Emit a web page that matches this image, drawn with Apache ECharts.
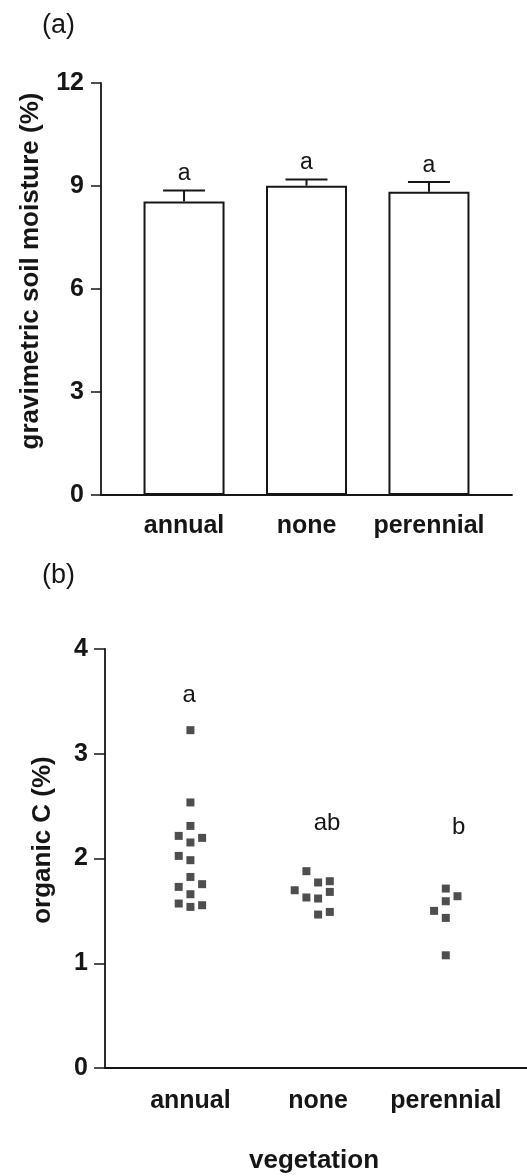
<!DOCTYPE html>
<html>
<head>
<meta charset="utf-8">
<script src="https://cdn.jsdelivr.net/npm/echarts@6/dist/echarts.min.js"></script>
<style>
  html, body { margin: 0; padding: 0; background: #fff; }
  #chart { width: 527px; height: 1176px; }
</style>
</head>
<body>
<div id="chart"></div>
<script>
// ---------- data ----------
const categories = ['annual', 'none', 'perennial'];

// panel (a): gravimetric soil moisture (%), mean and upper error
const moistureMean = [8.55, 9.01, 8.83];
const moistureErr = [0.32, 0.18, 0.29];
const moistureLetters = ['a', 'a', 'a'];
const moistureTicks = [0, 3, 6, 9, 12];

// panel (b): organic C (%) individual samples, with dot column within each group
const organicAnnual = [3.225, 2.535, 2.311, 2.216, 2.197, 2.153, 2.025, 1.984, 1.824, 1.729, 1.755, 1.659, 1.570, 1.538, 1.554];
const organicAnnualCol = [0, 0, 0, -1, 1, 0, -1, 0, 0, -1, 1, 0, -1, 0, 1];
const organicNone = [1.879, 1.771, 1.783, 1.697, 1.681, 1.628, 1.618, 1.465, 1.490];
const organicNoneCol = [-1, 0, 1, -2, 1, -1, 0, 0, 1];
const organicPerennial = [1.713, 1.640, 1.592, 1.500, 1.433, 1.076];
const organicPerennialCol = [0, 1, 0, -1, 0, 0];
const organicLetters = ['a', 'ab', 'b'];
const organicLetterY = [3.56, 2.34, 2.30];
const organicLetterX = [0.99, 2.07, 3.10];
const organicTicks = [0, 1, 2, 3, 4];

// ---------- styling ----------
const FONT = "'Liberation Sans', Arial, Helvetica, sans-serif";
const INK = '#161616';
const jitterStep = 11.7 / 127.7; // column spacing in category units

function buildPoints(values, cols, group) {
  return values.map((v, i) => [group + cols[i] * jitterStep, v]);
}
const scatterData = []
  .concat(buildPoints(organicAnnual, organicAnnualCol, 1))
  .concat(buildPoints(organicNone, organicNoneCol, 2))
  .concat(buildPoints(organicPerennial, organicPerennialCol, 3));

const axisLineStyle = { color: INK, width: 1.8 };
const tickLabel = { color: INK, fontFamily: FONT, fontWeight: 'bold', fontSize: 25 };

const chart = echarts.init(document.getElementById('chart'), null, { renderer: 'canvas' });

const option = {
  backgroundColor: '#ffffff',
  animation: false,
  grid: [
    { left: 101, top: 83, width: 411, height: 412 },
    { left: 105, top: 649, width: 422, height: 419 }
  ],
  xAxis: [
    {
      type: 'value', gridIndex: 0, min: 0.322, max: 3.678,
      axisLine: { show: true, onZero: false, lineStyle: axisLineStyle },
      axisTick: { show: false },
      splitLine: { show: false },
      axisLabel: Object.assign({}, tickLabel, {
        margin: 19,
        customValues: [1, 2, 3],
        formatter: v => categories[Math.round(v) - 1] || ''
      })
    },
    {
      type: 'value', gridIndex: 1, min: 0.331, max: 3.636,
      axisLine: { show: true, onZero: false, lineStyle: axisLineStyle },
      axisTick: { show: false },
      splitLine: { show: false },
      axisLabel: Object.assign({}, tickLabel, {
        margin: 21,
        customValues: [1, 2, 3],
        formatter: v => categories[Math.round(v) - 1] || ''
      })
    }
  ],
  yAxis: [
    {
      type: 'value', gridIndex: 0, min: moistureTicks[0], max: moistureTicks[moistureTicks.length - 1], interval: 3,
      axisLine: { show: true, onZero: false, lineStyle: axisLineStyle },
      axisTick: { show: true, length: 10, lineStyle: { color: INK, width: 1.5 } },
      splitLine: { show: false },
      axisLabel: Object.assign({}, tickLabel, { margin: 17 })
    },
    {
      type: 'value', gridIndex: 1, min: organicTicks[0], max: organicTicks[organicTicks.length - 1], interval: 1,
      axisLine: { show: true, onZero: false, lineStyle: axisLineStyle },
      axisTick: { show: true, length: 11, lineStyle: { color: INK, width: 1.5 } },
      splitLine: { show: false },
      axisLabel: Object.assign({}, tickLabel, { margin: 17 })
    }
  ],
  series: [
    {
      type: 'bar', xAxisIndex: 0, yAxisIndex: 0,
      barWidth: 81,
      data: categories.map((c, i) => [i + 1, moistureMean[i]]),
      itemStyle: { color: '#ffffff', borderColor: INK, borderWidth: 2 },
      z: 2
    },
    {
      type: 'custom', xAxisIndex: 0, yAxisIndex: 0,
      data: categories.map((c, i) => [i + 1, moistureMean[i], moistureErr[i]]),
      z: 5,
      renderItem: function (params, api) {
        const x = api.value(0), m = api.value(1), e = api.value(2);
        const p0 = api.coord([x, m]);
        const p1 = api.coord([x, m + e]);
        const half = 21;
        const ls = { stroke: INK, lineWidth: 2 };
        return {
          type: 'group',
          children: [
            { type: 'line', shape: { x1: p0[0], y1: p0[1], x2: p1[0], y2: p1[1] }, style: ls },
            { type: 'line', shape: { x1: p1[0] - half, y1: p1[1], x2: p1[0] + half, y2: p1[1] }, style: ls },
            { type: 'text', style: {
                text: moistureLetters[params.dataIndex], x: p1[0], y: p1[1] - 5,
                align: 'center', verticalAlign: 'bottom',
                fontFamily: FONT, fontSize: 23, fill: INK } }
          ]
        };
      }
    },
    {
      type: 'scatter', xAxisIndex: 1, yAxisIndex: 1,
      symbol: 'rect', symbolSize: 8,
      itemStyle: { color: '#222222' },
      data: scatterData,
      z: 4
    },
    {
      type: 'custom', xAxisIndex: 1, yAxisIndex: 1,
      data: organicLetters.map((t, i) => [organicLetterX[i], organicLetterY[i]]),
      renderItem: function (params, api) {
        const p = api.coord([api.value(0), api.value(1)]);
        return { type: 'text', style: {
          text: organicLetters[params.dataIndex], x: p[0], y: p[1],
          align: 'center', verticalAlign: 'middle',
          fontFamily: FONT, fontSize: 24, fill: INK } };
      }
    }
  ],
  graphic: [
    { type: 'text', left: 42, top: 12, style: { text: '(a)', fontFamily: FONT, fontSize: 27, fill: INK } },
    { type: 'text', left: 42, top: 562, style: { text: '(b)', fontFamily: FONT, fontSize: 27, fill: INK } },
    { type: 'text', x: 31, y: 271, rotation: Math.PI / 2,
      style: { text: 'gravimetric soil moisture (%)', x: 0, y: 0, align: 'center', verticalAlign: 'middle',
               fontFamily: FONT, fontWeight: 'bold', fontSize: 26, fill: INK } },
    { type: 'text', x: 43, y: 840, rotation: Math.PI / 2,
      style: { text: 'organic C (%)', x: 0, y: 0, align: 'center', verticalAlign: 'middle',
               fontFamily: FONT, fontWeight: 'bold', fontSize: 26, fill: INK } },
    { type: 'text', x: 314, y: 1161,
      style: { text: 'vegetation', x: 0, y: 0, align: 'center', verticalAlign: 'middle',
               fontFamily: FONT, fontWeight: 'bold', fontSize: 26, fill: INK } }
  ]
};
chart.setOption(option);
</script>
</body>
</html>
